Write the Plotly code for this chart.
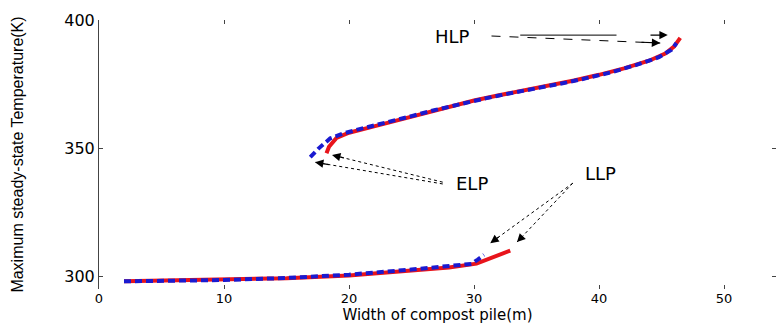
import plotly.graph_objects as go

# ---- data ----
red_low_x = [2, 5, 10, 15, 20, 25, 28, 30.2, 31.5, 32.9]
red_low_y = [298, 298.2, 298.5, 299.2, 300.3, 302.0, 303.4, 304.9, 307.2, 310.0]
blue_low_x = [2, 5, 10, 15, 20, 25, 28, 29.8, 30.3, 30.8]
blue_low_y = [298, 298.2, 298.5, 299.3, 300.6, 302.6, 303.9, 304.8, 306.5, 308.3]
red_up_x = [18.2, 18.4, 19.0, 20.0, 22.0, 24.0, 26.0, 28.0, 30.0, 32.0, 34.0, 36.0, 38.0, 40.0, 42.0, 44.0, 45.3, 46.0, 46.5]
red_up_y = [348.0, 350.5, 354.0, 356.0, 358.5, 361.0, 363.8, 366.2, 368.6, 370.6, 372.5, 374.4, 376.4, 378.6, 381.1, 384.1, 386.9, 389.6, 393.0]
blue_up_x = [16.9, 17.6, 18.5, 19.6, 21.0, 23.0, 25.0, 27.0, 29.0, 31.0, 33.0, 35.0, 37.0, 39.0, 41.0, 43.0, 44.8, 45.8, 46.2]
blue_up_y = [346.5, 350.0, 353.8, 355.8, 357.6, 359.9, 362.5, 365.0, 367.3, 369.5, 371.5, 373.3, 375.2, 377.3, 379.6, 382.5, 385.5, 388.4, 391.0]

x_ticks = [0, 10, 20, 30, 40, 50]
y_ticks = [300, 350, 400]

FONT = "DejaVu Sans, Verdana, sans-serif"

fig = go.Figure()
fig.add_trace(go.Scatter(x=red_low_x, y=red_low_y, mode="lines",
                         line=dict(color="#e8141b", width=4)))
fig.add_trace(go.Scatter(x=red_up_x, y=red_up_y, mode="lines",
                         line=dict(color="#e8141b", width=4)))
fig.add_trace(go.Scatter(x=blue_low_x, y=blue_low_y, mode="lines",
                         line=dict(color="#1a1ad0", width=4, dash="7px,4px")))
fig.add_trace(go.Scatter(x=blue_up_x, y=blue_up_y, mode="lines",
                         line=dict(color="#1a1ad0", width=4, dash="7px,4px")))

shapes = []
annotations = []

def add_arrow(tail, head, dash):
    shapes.append(dict(type="line", xref="x", yref="y",
                       x0=tail[0], y0=tail[1], x1=head[0], y1=head[1],
                       line=dict(color="black", width=1, dash=dash)))
    tx = head[0] - 0.12 * (head[0] - tail[0])
    ty = head[1] - 0.12 * (head[1] - tail[1])
    annotations.append(dict(x=head[0], y=head[1], ax=tx, ay=ty, xref="x", yref="y",
                            axref="x", ayref="y", text="", showarrow=True,
                            arrowhead=2, arrowsize=1.4, arrowwidth=1.2,
                            arrowcolor="black"))

# HLP
shapes.append(dict(type="line", xref="x", yref="y", x0=33.7, y0=394.1, x1=41.4, y1=394.1,
                   line=dict(color="black", width=1)))
annotations.append(dict(x=45.5, y=394.1, ax=44.0, ay=394.1, xref="x", yref="y",
                        axref="x", ayref="y", text="", showarrow=True,
                        arrowhead=2, arrowsize=1.4, arrowwidth=1.2, arrowcolor="black"))
add_arrow((31.4, 393.75), (44.9, 391.0), "dash")
# ELP
add_arrow((27.5, 336.7), (18.64, 347.3), "dot")
add_arrow((27.5, 336.0), (17.28, 344.5), "dot")
# LLP
add_arrow((37.9, 336.3), (31.3, 312.9), "dot")
add_arrow((37.9, 336.3), (33.44, 313.3), "dot")

for txt, x, y in [("HLP", 28.24, 393.75), ("ELP", 29.84, 336.3), ("LLP", 40.08, 340.2)]:
    annotations.append(dict(x=x, y=y, xref="x", yref="y", text=txt, showarrow=False,
                            font=dict(family=FONT, size=18, color="black"),
                            xanchor="center", yanchor="middle"))

fig.update_layout(
    width=776, height=324,
    margin=dict(l=99, r=0, t=20, b=35),
    paper_bgcolor="white", plot_bgcolor="white",
    showlegend=False,
    shapes=shapes, annotations=annotations,
    xaxis=dict(range=[0, 54.16], tickvals=x_ticks, ticks="inside", ticklen=4,
               tickcolor="#444", mirror="ticks", showline=False, showgrid=False,
               zeroline=False, tickfont=dict(family=FONT, size=13, color="black"),
               title=dict(text="Width of compost pile(m)", standoff=6,
                          font=dict(family=FONT, size=15, color="black"))),
    yaxis=dict(range=[295, 400], tickvals=y_ticks, ticks="inside", ticklen=4,
               tickcolor="#444", mirror="ticks", showline=True, linecolor="#444",
               linewidth=1, showgrid=False, zeroline=False,
               tickfont=dict(family=FONT, size=16, color="black"),
               title=dict(text="Maximum steady-state Temperature(K)", standoff=36,
                          font=dict(family="Liberation Sans Narrow, Arial Narrow, sans-serif",
                                    size=16, color="black"))),
)

fig.write_html("out.html")
